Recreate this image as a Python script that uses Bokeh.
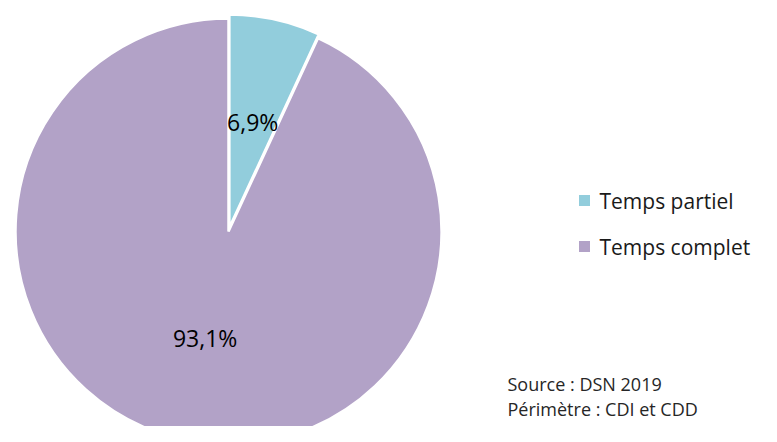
import numpy as np
from bokeh.plotting import figure
from bokeh.models import Range1d, ColumnDataSource
from bokeh.core.properties import value
from bokeh.embed import file_html
from bokeh.resources import INLINE

categories = ["Temps partiel", "Temps complet"]
shares = [6.9, 93.1]
labels = ["6,9%", "93,1%"]
colors = ["#92CDDC", "#B2A2C7"]
notes = ["Source : DSN 2019", "Périmètre : CDI et CDD"]

W, H = 761, 426
FONT = value("Open Sans")

p = figure(width=W, height=H, output_backend="svg", toolbar_location=None,
           x_range=Range1d(0, W), y_range=Range1d(0, H), min_border=0)
p.axis.visible = False
p.grid.visible = False
p.outline_line_color = None

cx, cy, R = 228, 195, 213
explode = [4, 0]

fr = np.array(shares) / sum(shares)
ends = np.pi / 2 - np.concatenate([[0], np.cumsum(fr)[:-1]]) * 2 * np.pi
starts = ends - fr * 2 * np.pi
mids = (starts + ends) / 2

xs = cx + np.array(explode) * np.cos(mids)
ys = cy + np.array(explode) * np.sin(mids)

src = ColumnDataSource(dict(x=xs, y=ys, start=starts, end=ends, color=colors,
                            lx=xs + 0.51 * R * np.cos(mids),
                            ly=ys + 0.51 * R * np.sin(mids), label=labels))
p.wedge(x="x", y="y", radius=R, start_angle="start", end_angle="end",
        fill_color="color", line_color="white", line_width=2.5, source=src)
p.text(x="lx", y="ly", text="label", text_font=FONT, text_font_size="23px",
       text_align="center", text_baseline="middle", text_color="#000000", source=src)

# legend
leg_y = [226, 180]
p.scatter(x=[584, 584], y=leg_y, marker="square", size=11, fill_color=colors,
          line_color=None)
p.text(x=[599, 599], y=leg_y, text=categories, text_font=FONT, text_font_size="21px",
       text_align="left", text_baseline="middle", text_color="#1a1a1a")

# notes
p.text(x=[507, 507], y=[43, 18], text=notes, text_font=FONT, text_font_size="18px",
       text_align="left", text_baseline="middle", text_color="#262626")

open("out.html", "w").write(file_html(p, INLINE))
